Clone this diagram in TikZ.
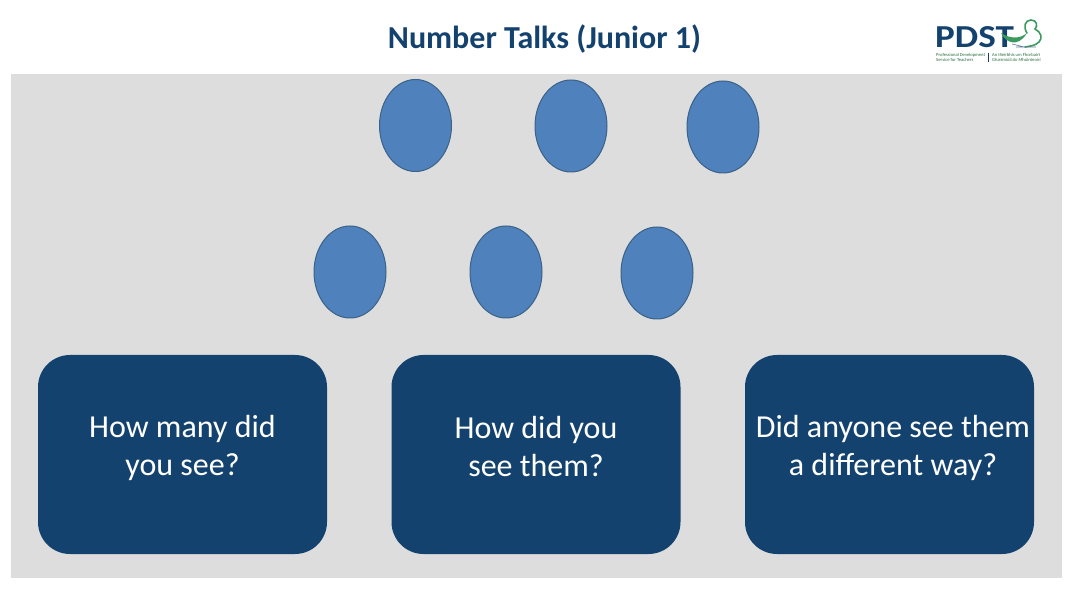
\documentclass[tikz,border=0pt]{standalone}
\usepackage{fontspec}
\setmainfont{Carlito}
\usetikzlibrary{shapes.geometric}
\definecolor{panelgrey}{HTML}{DDDDDD}
\definecolor{boxblue}{HTML}{14426E}
\definecolor{dotblue}{HTML}{4F81BD}
\definecolor{dotline}{HTML}{3A6288}
\definecolor{logogreen}{HTML}{3C9A5F}
\tikzset{
	dot/.style={ellipse, draw=dotline, line width=1pt, fill=dotblue, minimum width=72pt, minimum height=92pt, inner sep=0pt},
	question/.style={rounded corners=32pt, fill=boxblue, minimum width=289pt, minimum height=199pt, inner sep=0pt},
	asking/.style={text=white, align=center, font=\fontsize{32}{38}\selectfont},
	logotext/.style={text=logogreen!70!black, align=left, inner sep=0pt, anchor=north west, font=\fontsize{4.6}{5.2}\selectfont},
}

\begin{document}
\begin{tikzpicture}[x=1pt, y=-1pt]
	\useasboundingbox (0,0) rectangle (1074,593);
	\fill[white] (0,0) rectangle (1074,593);
	\fill[panelgrey] (11,74) rectangle (1062,578);
	\node[text=boxblue, font=\bfseries\fontsize{32}{36}\selectfont] (title) at (544.5,39) {Number Talks (Junior 1)};
	% top row
	\node[dot] (dotA) at (415.5,125.5) {};
	\node[dot] (dotB) at (571,126) {};
	\node[dot] (dotC) at (723,127) {};
	% bottom row
	\node[dot] (dotD) at (350,272) {};
	\node[dot] (dotE) at (506,272) {};
	\node[dot] (dotF) at (657,273) {};
	% questions
	\node[question] (boxA) at (182.5,454.5) {};
	\node[question] (boxB) at (536,454.5) {};
	\node[question] (boxC) at (889.5,454.5) {};
	\node[asking] (textA) at (182.5,448) {How many did\\you see?};
	\node[asking] (textB) at (536,447) {How did you\\see them?};
	\node[asking] (textC) at (893,448) {Did anyone see them\\a different way?};
	% logo
	\node[text=boxblue, font=\bfseries\fontsize{32}{32}\selectfont, inner sep=0pt, text height=20.5pt, text depth=0pt, anchor=south west, xscale=1.16, transform shape] (logo) at (935,48) {PDST};
	\draw[logogreen, line width=1.6pt, line cap=round] (1027,33) .. controls (1023,27) and (1025,20) .. (1031,20) .. controls (1037,20) and (1038,26) .. (1035,29) .. controls (1041,32) and (1043,38) .. (1039,42) .. controls (1035,46) and (1030,46) .. (1025,47);
	\fill[logogreen] (1001,33) .. controls (1006,43) and (1018,48) .. (1027,33) .. controls (1020,39) and (1010,39) .. (1001,33) -- cycle;
	\draw[boxblue!70, line width=0.6pt] (1012,44) -- (1024,47) (1016,47) -- (1036,47);
	\node[logotext] (logoL) at (936,53) {Professional Development\\Service for Teachers};
	\node[logotext] (logoR) at (992,53) {An tSeirbh\'is um Fhorbairt\\Ghairmi\'uil do Mh\'uinteoir\'i};
	\draw[boxblue, line width=0.8pt] (988.5,53) -- (988.5,62);
\end{tikzpicture}
\end{document}
